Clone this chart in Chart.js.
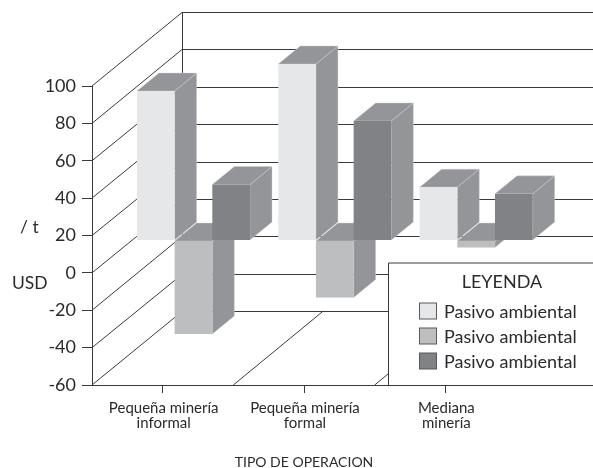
<!DOCTYPE html>
<html>
<head>
<meta charset="utf-8">
<style>
    html, body { margin: 0; padding: 0; background: #fff; }
    canvas { display: block; }
</style>
<script src="https://cdn.jsdelivr.net/npm/chart.js@4"></script>
</head>
<body>
<canvas id="chart3d" width="593" height="468"></canvas>
<script>
    const categories = [["Pequeña minería", "informal"], ["Pequeña minería", "formal"], ["Mediana", "minería"]];
    const seriesNames = ["Pasivo ambiental", "Pasivo ambiental", "Pasivo ambiental"];
    const serie1 = [80, 94.5, 28.6];
    const serie2 = [-50, -30.5, -3.7];
    const serie3 = [30, 64, 25];
    const seriesColors = ["#e6e7e8", "#bcbec0", "#808285"];

    const FONT = "Lato, 'Liberation Sans', sans-serif";
    const TEXT = "#2b2b2d";
    const SIDE = "#939598";
    // profundidad de la caja y posicion de las barras dentro de ella
    const wallDx = 90, wallDy = 74;
    const barDx = 30.8, barDy = 32.3;
    const sideDx = 22, sideDy = 18;

    function poly(ctx, pts, fill) {
        ctx.beginPath();
        pts.forEach((p, i) => i ? ctx.lineTo(p[0], p[1]) : ctx.moveTo(p[0], p[1]));
        ctx.closePath();
        ctx.fillStyle = fill;
        ctx.fill();
        ctx.strokeStyle = "rgba(210,211,213,0.7)";
        ctx.lineWidth = 0.6;
        ctx.stroke();
    }

    const boxPlugin = {
        id: "box3d",
        beforeDatasetsDraw(chart) {
            let ctx = chart.ctx, y = chart.scales.y, area = chart.chartArea;
            let catW = (area.right - area.left) / categories.length;
            ctx.save();
            ctx.lineWidth = 1;
            ctx.strokeStyle = "#3a3a3c";
            // diagonales de la pared izquierda y pared del fondo
            y.ticks.forEach(t => {
                let py = y.getPixelForValue(t.value);
                let back = Math.round(py - wallDy) + 0.5;
                ctx.beginPath();
                ctx.moveTo(area.left, py);
                ctx.lineTo(area.left + wallDx, back);
                ctx.lineTo(chart.width, back);
                ctx.stroke();
            });
            let backX = Math.round(area.left + wallDx) + 0.5;
            ctx.beginPath();
            ctx.moveTo(backX, area.top - wallDy);
            ctx.lineTo(backX, area.bottom - wallDy);
            ctx.stroke();
            // piso
            for (let i = 1; i <= categories.length; i++) {
                ctx.beginPath();
                ctx.moveTo(area.left + catW * i, area.bottom);
                ctx.lineTo(area.left + catW * i + wallDx, area.bottom - wallDy);
                ctx.stroke();
            }
            ctx.beginPath();
            ctx.moveTo(area.right, area.bottom + 0.5);
            ctx.lineTo(chart.width, area.bottom + 0.5);
            ctx.stroke();
            ctx.restore();
        },
        // las barras se dibujan abajo, de izquierda a derecha
        beforeDatasetDraw() {
            return false;
        },
        afterDatasetsDraw(chart) {
            let ctx = chart.ctx;
            ctx.save();
            ctx.translate(barDx, -barDy);
            chart.data.datasets.forEach((ds, i) => {
                let meta = chart.getDatasetMeta(i);
                meta.data.forEach(bar => {
                    let p = bar.getProps(["x", "y", "base", "width"], true);
                    let l = p.x - p.width / 2, r = p.x + p.width / 2;
                    let top = Math.min(p.y, p.base), bottom = Math.max(p.y, p.base);
                    poly(ctx, [[r, top], [r + sideDx, top - sideDy], [r + sideDx, bottom - sideDy], [r, bottom]], SIDE);
                    poly(ctx, [[l, top], [l + sideDx, top - sideDy], [r + sideDx, top - sideDy], [r, top]], SIDE);
                });
                meta.controller.draw();
            });
            ctx.restore();
        },
        afterDraw(chart) {
            let ctx = chart.ctx, area = chart.chartArea;
            ctx.save();
            ctx.fillStyle = TEXT;
            ctx.textBaseline = "middle";
            ctx.textAlign = "left";
            ctx.font = "17.5px " + FONT;
            ctx.fillText("/ t", 20, 227);
            ctx.fillText("USD", 12, 283);

            // leyenda
            let boxX = 388, boxY = 262.5;
            ctx.fillStyle = "#fff";
            ctx.fillRect(boxX, boxY, chart.width - boxX, area.bottom - boxY);
            ctx.strokeStyle = "#3a3a3c";
            ctx.lineWidth = 1;
            ctx.beginPath();
            ctx.moveTo(boxX + 0.5, area.bottom);
            ctx.lineTo(boxX + 0.5, boxY + 0.5);
            ctx.lineTo(chart.width, boxY + 0.5);
            ctx.moveTo(boxX, area.bottom + 0.5);
            ctx.lineTo(chart.width, area.bottom + 0.5);
            ctx.stroke();
            ctx.font = "18px " + FONT;
            ctx.fillStyle = TEXT;
            ctx.textAlign = "center";
            ctx.fillText("LEYENDA", 502, 282);
            ctx.textAlign = "left";
            chart.data.datasets.forEach((ds, i) => {
                let rowY = 311 + i * 25;
                ctx.fillStyle = ds.backgroundColor;
                ctx.fillRect(419.5, rowY - 8, 17, 16);
                ctx.strokeStyle = "#58595b";
                ctx.strokeRect(419.5, rowY - 8, 17, 16);
                ctx.fillStyle = TEXT;
                ctx.fillText(ds.label, 444, rowY + 1);
            });
            ctx.restore();
        }
    };

    let ctx = document.getElementById("chart3d").getContext("2d");
    new Chart(ctx, {
        type: "bar",
        data: {
            labels: categories,
            datasets: [
                { label: seriesNames[0], data: serie1, backgroundColor: seriesColors[0] },
                { label: seriesNames[1], data: serie2, backgroundColor: seriesColors[1] },
                { label: seriesNames[2], data: serie3, backgroundColor: seriesColors[2] }
            ]
        },
        plugins: [boxPlugin],
        options: {
            responsive: false,
            animation: false,
            layout: { padding: { left: 0, top: 86, right: 77, bottom: 0 } },
            datasets: { bar: { barPercentage: 1, categoryPercentage: 0.8 } },
            plugins: {
                legend: { display: false },
                title: { display: false },
                tooltip: { enabled: false }
            },
            scales: {
                x: {
                    afterFit: function (scale) { scale.height = 83; },
                    grid: { offset: false, drawOnChartArea: false, color: "#3a3a3c", tickLength: 8 },
                    border: { color: "#3a3a3c" },
                    ticks: {
                        color: TEXT,
                        font: { family: FONT, size: 15, lineHeight: 1.05 },
                        maxRotation: 0,
                        padding: 7,
                        labelOffset: 1
                    },
                    title: {
                        display: true,
                        text: "TIPO DE OPERACION",
                        color: TEXT,
                        font: { family: FONT, size: 14 },
                        padding: { top: 0, bottom: -3 }
                    }
                },
                y: {
                    min: -60,
                    max: 100,
                    afterFit: function (scale) { scale.width = 92; },
                    grid: { drawOnChartArea: false, color: "#3a3a3c", tickLength: 10 },
                    border: { color: "#3a3a3c" },
                    ticks: {
                        stepSize: 20,
                        color: TEXT,
                        padding: 6,
                        font: { family: FONT, size: 18 }
                    }
                }
            }
        }
    });
</script>
</body>
</html>
